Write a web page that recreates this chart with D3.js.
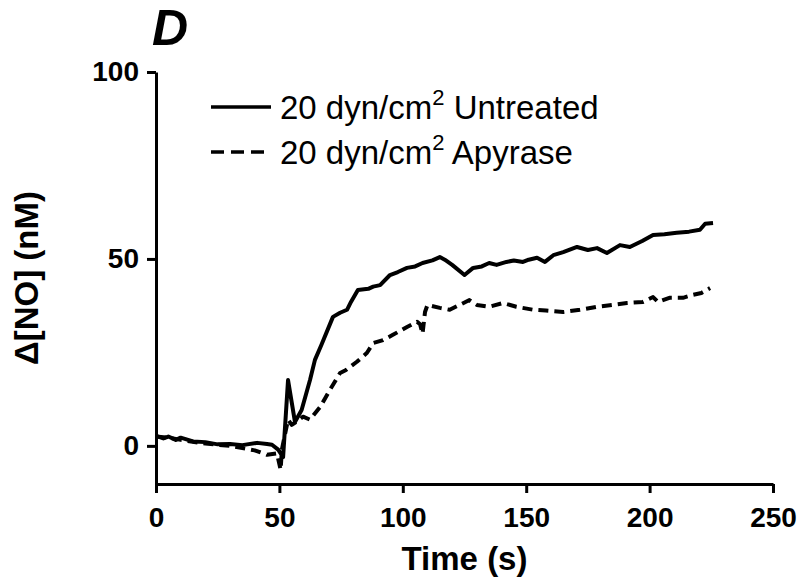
<!DOCTYPE html>
<html>
<head>
<meta charset="utf-8">
<script src="https://cdn.jsdelivr.net/npm/d3@7"></script>
<style>
  body { margin: 0; background: #fff; }
  svg { display: block; font-family: "Liberation Sans", Arial, sans-serif; }
  .axis path, .axis line { stroke: #000; stroke-width: 3px; }
  .axis text { font-size: 28px; font-weight: bold; fill: #000; }
  .line { fill: none; stroke: #000; stroke-width: 4px; stroke-linejoin: round; }
</style>
</head>
<body>
<div id="chart"></div>
<script>
// Time (s) and ΔNO (nM)
const untreatedT = [0, 3, 5, 8, 10, 15, 20, 25, 30, 35, 41, 45, 47, 49.5, 51.5, 53.5, 56.3, 59, 62.4, 64.4, 67, 71.7, 74.6, 77.4, 79, 81.8, 86, 88, 90.8, 94.8, 98, 101.7, 105, 108, 112, 115, 117, 120, 125, 128.5, 132, 135, 138, 142, 145, 148.7, 151, 154.4, 157.6, 161, 165, 170.6, 175, 178.7, 182.7, 188, 192, 197, 201.4, 206, 211, 216, 220.4, 222.5, 225.7];
const untreatedV = [2.7, 2.0, 2.5, 1.6, 2.2, 1.2, 1.0, 0.4, 0.5, 0.2, 0.8, 0.5, 0.3, -1.0, -3.0, 17.6, 6.4, 9.6, 17.6, 23.0, 27.0, 34.5, 35.6, 36.4, 38.5, 41.7, 42.0, 42.6, 43.0, 45.7, 46.5, 47.6, 48.0, 48.9, 49.6, 50.5, 49.8, 48.4, 45.7, 47.6, 48.0, 48.9, 48.4, 49.2, 49.6, 49.2, 49.8, 50.3, 49.2, 51.0, 51.8, 53.2, 52.4, 52.9, 51.6, 53.7, 53.2, 54.8, 56.4, 56.6, 57.0, 57.3, 57.8, 59.4, 59.6];

const apyraseT = [0, 5, 10, 20, 30, 40, 45, 49, 50.5, 51, 53.5, 55, 57, 59.6, 62.4, 66.5, 70.5, 74.6, 77, 81.4, 85.5, 88, 92, 96, 101.7, 105.8, 107, 108, 109, 110, 115, 119, 123, 127, 130, 135, 140.6, 146, 152.8, 158, 165, 171.8, 178.7, 185, 190.8, 197.3, 201.4, 203.4, 208, 213.5, 217.6, 221, 224.5];
const apyraseV = [2.5, 2.2, 1.6, 0.6, 0.0, -1.2, -2.4, -2.0, -6.4, -1.0, 7.0, 5.6, 6.5, 7.8, 7.0, 10.4, 15.0, 19.5, 20.3, 22.5, 24.9, 27.5, 28.3, 29.7, 31.8, 33.2, 32.5, 30.0, 35.8, 37.7, 36.9, 36.4, 37.7, 39.0, 37.7, 37.2, 38.2, 37.2, 36.4, 36.2, 35.8, 36.4, 37.2, 37.7, 38.2, 38.5, 39.8, 38.5, 39.6, 39.6, 40.4, 40.9, 42.2];

const xTicks = [0, 50, 100, 150, 200, 250];
const yTicks = [0, 50, 100];

const W = 800, H = 586;
const plot = { left: 156, right: 773, top: 72, bottom: 484 };

const svg = d3.select('#chart').append('svg')
    .attr('width', W)
    .attr('height', H);

const x = d3.scaleLinear().domain([0, 250]).range([plot.left, plot.right]);
const y = d3.scaleLinear().domain([-10.2, 100]).range([plot.bottom, plot.top]);

// Axes
svg.append('g')
    .attr('class', 'axis')
    .attr('transform', `translate(0,${plot.bottom})`)
    .call(d3.axisBottom(x).tickValues(xTicks).tickSize(9).tickSizeOuter(0).tickPadding(14))
    .call(g => g.selectAll('text').attr('dy', '0.71em'));

svg.append('g')
    .attr('class', 'axis')
    .attr('transform', `translate(${plot.left},0)`)
    .call(d3.axisLeft(y).tickValues(yTicks).tickSize(9).tickSizeOuter(0).tickPadding(8));

// Series
const line = d3.line().x(d => x(d[0])).y(d => y(d[1]));

svg.append('path')
    .attr('class', 'line')
    .attr('d', line(d3.zip(untreatedT, untreatedV)));

svg.append('path')
    .attr('class', 'line')
    .attr('stroke-dasharray', '10,6')
    .attr('d', line(d3.zip(apyraseT, apyraseV)));

// Panel letter
svg.append('text')
    .attr('x', 152)
    .attr('y', 45)
    .style('font-size', '50px')
    .style('font-weight', 'bold')
    .style('font-style', 'italic')
    .text('D');

// Axis labels
svg.append('text')
    .attr('text-anchor', 'middle')
    .attr('x', (plot.left + plot.right) / 2)
    .attr('y', 570)
    .style('font-size', '33px')
    .style('font-weight', 'bold')
    .text('Time (s)');

svg.append('text')
    .attr('text-anchor', 'middle')
    .attr('transform', `translate(38,${(plot.top + plot.bottom) / 2}) rotate(-90)`)
    .style('font-size', '33px')
    .style('font-weight', 'bold')
    .text('Δ[NO] (nM)');

// Legend
const legendItems = [
    { label: 'Untreated', dash: null },
    { label: 'Apyrase', dash: '13,7' }
];

legendItems.forEach((item, i) => {
    const yy = 107 + i * 45;
    svg.append('line')
        .attr('x1', 211).attr('x2', 271)
        .attr('y1', yy).attr('y2', yy)
        .attr('stroke', '#000')
        .attr('stroke-width', 3.5)
        .attr('stroke-dasharray', item.dash);

    const t = svg.append('text')
        .attr('x', 280)
        .attr('y', yy + 12)
        .style('font-size', '33px');
    t.append('tspan').text('20 dyn/cm');
    t.append('tspan').attr('dy', -14).style('font-size', '22px').text('2');
    t.append('tspan').attr('dy', 14).text(' ' + item.label);
});
</script>
</body>
</html>
